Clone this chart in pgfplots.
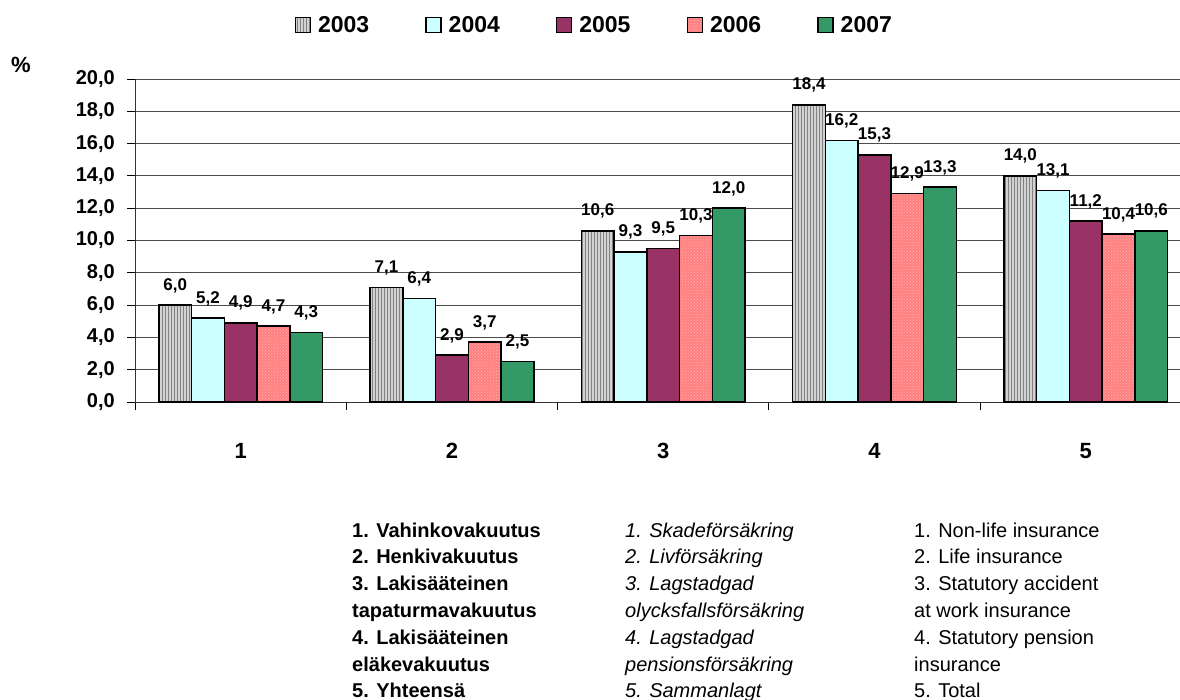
\documentclass[border=0pt]{standalone}
\usepackage{fontspec}
\setmainfont{Liberation Sans}
\usepackage{pgfplots}
\pgfplotsset{compat=1.18}
\usetikzlibrary{patterns}
\definecolor{c03}{RGB}{210,210,210}
\definecolor{c04}{RGB}{204,255,255}
\definecolor{c05}{RGB}{153,51,102}
\definecolor{c06}{RGB}{255,128,128}
\definecolor{c07}{RGB}{51,153,102}
\pgfplotsset{
  mylegend/.style={legend image code/.code={\draw[##1] (0pt,-7.5pt) rectangle (15pt,7.5pt);}},
  mybar/.style={draw=black, line width=1.5pt, mylegend},
}
\begin{document}
\begin{tikzpicture}
\useasboundingbox (0,0) rectangle (1180pt,-700pt);
\begin{axis}[
  at={(135pt,-402pt)}, anchor=south west,
  scale only axis, width=1056.5pt, height=323pt,
  xmin=-0.5, xmax=4.5, ymin=0, ymax=20,
  ybar=0pt, bar width=0.155,
  axis x line*=bottom, axis y line*=left,
  axis line style={black!80, line width=0.8pt},
  ytick={0,2,...,20},
  ymajorgrids, grid style={black!70, line width=0.8pt},
  xtick={0,1,2,3,4}, xticklabels={1,2,3,4,5},
  minor xtick={-0.5,0.5,1.5,2.5,3.5,4.5},
  major x tick style={draw=none},
  minor x tick style={black, line width=0.8pt},
  major y tick style={black, line width=0.8pt},
  tick align=outside, major tick length=8pt, minor tick length=8pt,
  yticklabel style={font=\bfseries\fontsize{20}{24}\selectfont, inner sep=0pt, anchor=east, xshift=-12pt,
    /pgf/number format/.cd, fixed, fixed zerofill, precision=1, use comma, assume math mode=true},
  xticklabel style={font=\bfseries\fontsize{22}{26}\selectfont, inner sep=0pt, anchor=base, yshift=-48pt},
  nodes near coords={\pgfmathprintnumber[fixed,fixed zerofill,precision=1,use comma,assume math mode=true]{\pgfplotspointmeta}},
  every node near coord/.append style={font=\bfseries\fontsize{17}{19}\selectfont, inner sep=0pt, anchor=base, yshift=15pt, black},
  legend columns=5,
  legend style={at={(0.148,1.167)}, anchor=west, draw=none, fill=none,
    font=\bfseries\fontsize{23}{26}\selectfont,
    /tikz/every odd column/.append style={column sep=5pt},
    /tikz/every even column/.append style={column sep=54pt}},
]
\addplot[mybar, fill=c03, postaction={pattern=vertical lines, pattern color=black!50}] coordinates {(0,6.0) (1,7.1) (2,10.6) (3,18.4) (4,14.0)};
\addplot[mybar, fill=c04] coordinates {(0,5.2) (1,6.4) (2,9.3) (3,16.2) (4,13.1)};
\addplot[mybar, fill=c05] coordinates {(0,4.9) (1,2.9) (2,9.5) (3,15.3) (4,11.2)};
\addplot[mybar, fill=c06, postaction={pattern=crosshatch dots, pattern color=c06!60!white}] coordinates {(0,4.7) (1,3.7) (2,10.3) (3,12.9) (4,10.4)};
\addplot[mybar, fill=c07] coordinates {(0,4.3) (1,2.5) (2,12.0) (3,13.3) (4,10.6)};
\legend{2003,2004,2005,2006,2007}
\end{axis}
\node[font=\bfseries\fontsize{22}{26}\selectfont, inner sep=0pt] at (21pt,-65pt) {\%};
\begin{scope}[every node/.style={anchor=base west, inner sep=0pt, font=\fontsize{20}{24}\selectfont}]
\node at (352pt,-537pt) {\bfseries 1. Vahinkovakuutus};
\node at (352pt,-563.8pt) {\bfseries 2. Henkivakuutus};
\node at (352pt,-590.6pt) {\bfseries 3. Lakisääteinen};
\node at (352pt,-617.4pt) {\bfseries tapaturmavakuutus};
\node at (352pt,-644.2pt) {\bfseries 4. Lakisääteinen};
\node at (352pt,-671pt) {\bfseries eläkevakuutus};
\node at (352pt,-697.8pt) {\bfseries 5. Yhteensä};
\node at (625pt,-537pt) {\itshape 1. Skadeförsäkring};
\node at (625pt,-563.8pt) {\itshape 2. Livförsäkring};
\node at (625pt,-590.6pt) {\itshape 3. Lagstadgad};
\node at (625pt,-617.4pt) {\itshape olycksfallsförsäkring};
\node at (625pt,-644.2pt) {\itshape 4. Lagstadgad};
\node at (625pt,-671pt) {\itshape pensionsförsäkring};
\node at (625pt,-697.8pt) {\itshape 5. Sammanlagt};
\node at (914pt,-537pt) {1. Non-life insurance};
\node at (914pt,-563.8pt) {2. Life insurance};
\node at (914pt,-590.6pt) {3. Statutory accident};
\node at (914pt,-617.4pt) {at work insurance};
\node at (914pt,-644.2pt) {4. Statutory pension};
\node at (914pt,-671pt) {insurance};
\node at (914pt,-697.8pt) {5. Total};
\end{scope}
\end{tikzpicture}
\end{document}
